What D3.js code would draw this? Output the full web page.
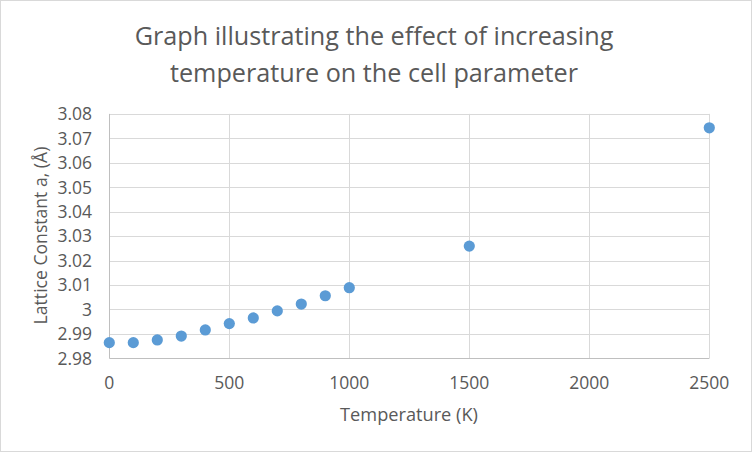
<!DOCTYPE html>
<html>
<head>
<meta charset="utf-8">
<script src="https://cdn.jsdelivr.net/npm/d3@7"></script>
<style>
  body { margin: 0; background: #fff; }
  text { font-family: "Open Sans", "Noto Sans", sans-serif; fill: #595959; }
</style>
</head>
<body>
<div id="chart"></div>
<script>
// data
var temperature = [0, 100, 200, 300, 400, 500, 600, 700, 800, 900, 1000, 1500, 2500];
var latticeA = [2.9864, 2.9864, 2.9875, 2.9891, 2.9916, 2.9942, 2.9965, 2.9994, 3.0022, 3.0056, 3.0089, 3.0259, 3.0743];
var xTicks = [0, 500, 1000, 1500, 2000, 2500];
var yTicks = [2.98, 2.99, 3, 3.01, 3.02, 3.03, 3.04, 3.05, 3.06, 3.07, 3.08];

var titleLines = ["Graph illustrating the effect of increasing", "temperature on the cell parameter"];

var W = 752, H = 452;
var margin = {left: 109.3, right: 752 - 709.3, top: 113.9, bottom: 452 - 358.3};

var svg = d3.select("#chart").append("svg")
    .attr("width", W)
    .attr("height", H);

// chart border
svg.append("rect")
    .attr("x", 0.5).attr("y", 0.5)
    .attr("width", W - 1).attr("height", H - 1)
    .attr("fill", "#fff")
    .attr("stroke", "#d9d9d9");

var x = d3.scaleLinear().domain([0, 2500]).range([margin.left, W - margin.right]);
var y = d3.scaleLinear().domain([2.98, 3.08]).range([H - margin.bottom, margin.top]);

// gridlines
svg.append("g")
    .selectAll("line.h")
    .data(yTicks.slice(1))
    .join("line")
    .attr("x1", x(0)).attr("x2", x(2500))
    .attr("y1", d => Math.round(y(d)) + 0.5).attr("y2", d => Math.round(y(d)) + 0.5)
    .attr("stroke", "#d9d9d9");

svg.append("g")
    .selectAll("line.v")
    .data(xTicks.slice(1))
    .join("line")
    .attr("x1", d => Math.round(x(d)) + 0.5).attr("x2", d => Math.round(x(d)) + 0.5)
    .attr("y1", y(3.08)).attr("y2", y(2.98))
    .attr("stroke", "#d9d9d9");

// axis lines
svg.append("line")
    .attr("x1", Math.round(x(0)) + 0.5).attr("x2", Math.round(x(0)) + 0.5)
    .attr("y1", y(3.08)).attr("y2", y(2.98))
    .attr("stroke", "#bfbfbf");
svg.append("line")
    .attr("x1", x(0)).attr("x2", x(2500))
    .attr("y1", Math.round(y(2.98)) + 0.5).attr("y2", Math.round(y(2.98)) + 0.5)
    .attr("stroke", "#bfbfbf");

// tick labels
svg.append("g")
    .selectAll("text")
    .data(xTicks)
    .join("text")
    .attr("x", d => x(d))
    .attr("y", 388.5)
    .attr("text-anchor", "middle")
    .attr("font-size", "17.5px")
    .text(d => d);

svg.append("g")
    .selectAll("text")
    .data(yTicks)
    .join("text")
    .attr("x", 92)
    .attr("y", d => y(d))
    .attr("dy", "0.36em")
    .attr("text-anchor", "end")
    .attr("font-size", "17.5px")
    .text(d => d3.format("")(d));

// points
svg.append("g")
    .selectAll("circle")
    .data(temperature)
    .join("circle")
    .attr("cx", (d, i) => x(d))
    .attr("cy", (d, i) => y(latticeA[i]))
    .attr("r", 5.6)
    .attr("fill", "#5b9bd5");

// title
svg.append("g")
    .selectAll("text")
    .data(titleLines)
    .join("text")
    .attr("x", 374)
    .attr("y", (d, i) => 45 + i * 37)
    .attr("text-anchor", "middle")
    .attr("font-size", "25.2px")
    .text(d => d);

// axis titles
svg.append("text")
    .attr("x", 409)
    .attr("y", 421)
    .attr("text-anchor", "middle")
    .attr("font-size", "18.2px")
    .text("Temperature (K)");

svg.append("text")
    .attr("transform", "translate(47,235.5) rotate(-90)")
    .attr("text-anchor", "middle")
    .attr("font-size", "17.6px")
    .text("Lattice Constant a, (Å)");
</script>
</body>
</html>
